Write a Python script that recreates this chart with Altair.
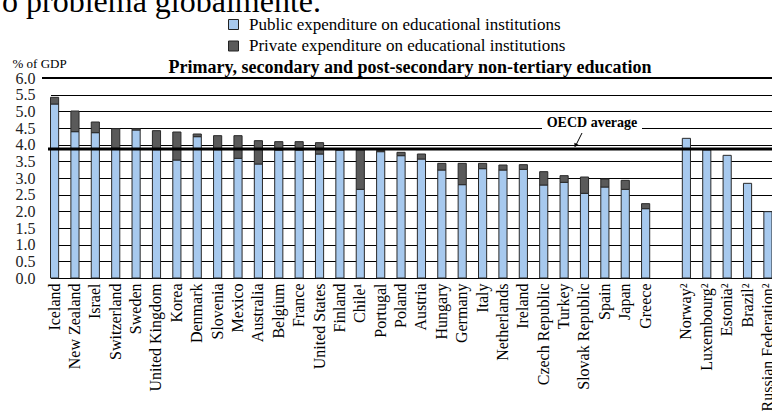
import altair as alt
import pandas as pd

# ---------------- data ----------------
OECD_COUNTRIES = ["Iceland", "New Zealand", "Israel", "Switzerland", "Sweden",
                  "United Kingdom", "Korea", "Denmark", "Slovenia", "Mexico",
                  "Australia", "Belgium", "France", "United States", "Finland",
                  "Chile¹", "Portugal", "Poland", "Austria", "Hungary",
                  "Germany", "Italy", "Netherlands", "Ireland", "Czech Republic",
                  "Turkey", "Slovak Republic", "Spain", "Japan", "Greece"]
OECD_PUBLIC = [5.22, 4.39, 4.36, 3.89, 4.44, 3.85, 3.54, 4.24, 3.85, 3.59,
               3.42, 3.84, 3.84, 3.72, 3.84, 2.66, 3.79, 3.67, 3.57, 3.24,
               2.80, 3.28, 3.24, 3.26, 2.79, 2.87, 2.54, 2.73, 2.66, 2.08]
OECD_PRIVATE = [0.20, 0.62, 0.32, 0.59, 0.04, 0.57, 0.84, 0.08, 0.42, 0.68,
                0.70, 0.25, 0.25, 0.34, 0.01, 1.18, 0.04, 0.10, 0.15, 0.20,
                0.64, 0.16, 0.15, 0.14, 0.40, 0.20, 0.49, 0.24, 0.27, 0.15]
PARTNERS = ["Norway²", "Luxembourg²", "Estonia²", "Brazil²", "Russian Federation²"]
PARTNER_PUBLIC = [4.19, 3.84, 3.68, 2.84, 1.99]

SERIES = ["Public expenditure on educational institutions",
          "Private expenditure on educational institutions"]
OECD_AVERAGE = 3.87
Y_TICKS = [0.0, 0.5, 1.0, 1.5, 2.0, 2.5, 3.0, 3.5, 4.0, 4.5, 5.0, 5.5, 6.0]

TOP_TEXT = "o problema globalmente."
TITLE = "Primary, secondary and post-secondary non-tertiary education"
Y_TITLE = "% of GDP"
AVG_LABEL = "OECD average"

# ---------------- styles ----------------
PUB_COLOR = "#A7C9EE"
PRIV_COLOR = "#5A5A5A"
FONT = "Liberation Serif"
W, H = 730, 200

rows = []
for c, p, q in zip(OECD_COUNTRIES, OECD_PUBLIC, OECD_PRIVATE):
    rows.append({"country": c, "series": SERIES[0], "value": p, "ord": 0})
    rows.append({"country": c, "series": SERIES[1], "value": q, "ord": 1})
for c, p in zip(PARTNERS, PARTNER_PUBLIC):
    rows.append({"country": c, "series": SERIES[0], "value": p, "ord": 0})
df = pd.DataFrame(rows)

DOMAIN = OECD_COUNTRIES + [" "] + PARTNERS

y_scale = alt.Scale(domain=[0, 6], nice=False, zero=True)
y_axis = alt.Axis(values=Y_TICKS, format=".1f", title=Y_TITLE,
                  titleAngle=0, titleX=-30, titleY=-11,
                  titleAlign="left", titleBaseline="alphabetic",
                  titleFont=FONT, titleFontSize=13,
                  titleFontWeight="normal", titleColor="black",
                  labelFont=FONT, labelFontSize=16, labelColor="#222",
                  labelPadding=7, ticks=False, domain=False, labelOverlap=False,
                  labelFlush=False,
                  grid=True, gridColor="black", gridWidth=1, gridOpacity=1)

bars = alt.Chart(df).mark_bar(stroke="#2a2a2a", strokeWidth=1).encode(
    x=alt.X("country:N",
            scale=alt.Scale(domain=DOMAIN, range=[8.5, 730],
                            paddingInner=0.6, paddingOuter=0),
            sort=DOMAIN,
            axis=alt.Axis(title=None, labelAngle=270, labelAlign="right",
                          labelBaseline="middle", labelPadding=5, ticks=False,
                          domain=False, labelFont=FONT, labelFontSize=16,
                          labelColor="black", labelOverlap=False,
                          labelLimit=300)),
    y=alt.Y("value:Q", stack="zero", scale=y_scale, axis=y_axis),
    color=alt.Color("series:N",
                    scale=alt.Scale(domain=SERIES, range=[PUB_COLOR, PRIV_COLOR]),
                    legend=alt.Legend(title=None, orient="none", legendX=183,
                                      legendY=-62, symbolType="square",
                                      symbolSize=100, symbolStrokeColor="#222",
                                      symbolStrokeWidth=1, labelFont=FONT,
                                      labelFontSize=17, labelColor="black",
                                      labelLimit=0,
                                      rowPadding=3.5, padding=0, labelOffset=7)),
    order=alt.Order("ord:Q", sort="ascending"),
)

avg_df = pd.DataFrame({"value": [OECD_AVERAGE]})
avg_rule = alt.Chart(avg_df).mark_rule(color="black", strokeWidth=3).encode(
    x=alt.value(6), x2=alt.value(W),
    y=alt.Y("value:Q", scale=y_scale, axis=y_axis))

top_df = pd.DataFrame({"value": [Y_TICKS[-1]]})
top_rule = alt.Chart(top_df).mark_rule(color="black", strokeWidth=2.2).encode(
    x=alt.value(0), x2=alt.value(W),
    y=alt.Y("value:Q", scale=y_scale, axis=y_axis))

lbl_df = pd.DataFrame({"t": [AVG_LABEL]})
gap = alt.Chart(lbl_df).mark_rect(color="white").encode(
    x=alt.value(500), x2=alt.value(600), y=alt.value(46), y2=alt.value(54))
avg_text = alt.Chart(lbl_df).mark_text(font=FONT, fontSize=14, fontWeight="bold",
                                       align="center", baseline="middle",
                                       color="black").encode(
    x=alt.value(550), y=alt.value(45), text="t:N")
arrow = alt.Chart(lbl_df).mark_rule(color="black", strokeWidth=1).encode(
    x=alt.value(540), x2=alt.value(534), y=alt.value(55), y2=alt.value(67))
arrow_head = alt.Chart(lbl_df).mark_point(shape="triangle-down", filled=True,
                                          size=22, angle=27, color="black",
                                          opacity=1).encode(
    x=alt.value(533.5), y=alt.value(67.5))

title_df = pd.DataFrame({"t": [TITLE]})
title_text = alt.Chart(title_df).mark_text(font=FONT, fontSize=18, fontWeight="bold",
                                           align="center", baseline="alphabetic",
                                           color="black").encode(
    x=alt.value(368), y=alt.value(-5), text="t:N")

topt_df = pd.DataFrame({"t": [TOP_TEXT]})
top_text = alt.Chart(topt_df).mark_text(font=FONT, fontSize=32, align="left",
                                        baseline="alphabetic",
                                        color="black").encode(
    x=alt.value(-40), y=alt.value(-66), text="t:N")

chart = alt.layer(bars, gap, avg_text, arrow, arrow_head, avg_rule, top_rule,
                  title_text, top_text).properties(
    width=W, height=H,
    autosize=alt.AutoSizeParams(type="none"),
    padding={"left": 42, "top": 78, "right": 0, "bottom": 136},
    background="white",
).configure_view(stroke=None)

chart.save("out.html", embed_options={"renderer": "svg", "actions": False})
